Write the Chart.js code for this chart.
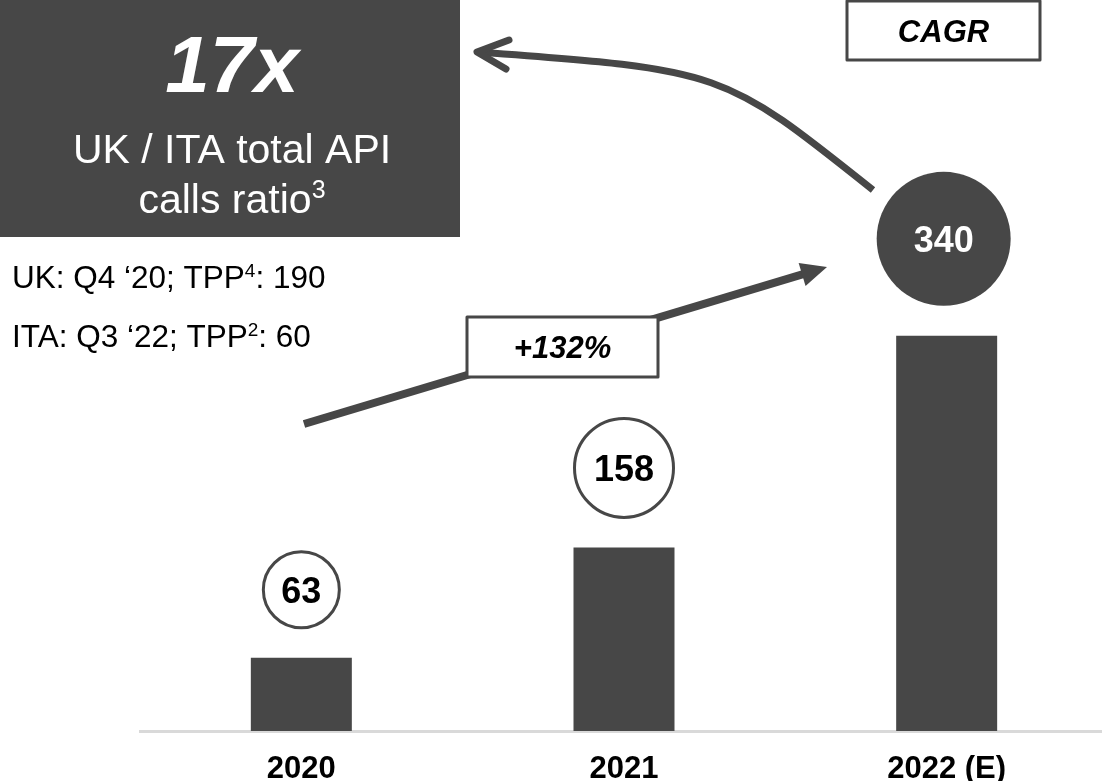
<!DOCTYPE html>
<html>
<head>
<meta charset="utf-8">
<script src="https://cdn.jsdelivr.net/npm/chart.js@4.4.0/dist/chart.umd.min.js"></script>
<style>
html, body { margin: 0; padding: 0; background: #fff; overflow: hidden; }
#wrap { position: absolute; left: 0; top: 0; width: 1108px; height: 807px; }
</style>
</head>
<body>
<div id="wrap"><canvas id="grafico-api"></canvas></div>
<script>
const categories = ['2020', '2021', '2022 (E)'];
const apiCalls = [63, 158, 340];
const axisMax = 629;
const growthText = '+132%';
const cagrText = 'CAGR';
const ratioText = '17x';
const ratioLine1 = [['UK / ITA total API', false]];
const ratioLine2 = [['calls ratio', false], ['3', true]];
const ukLine = [['UK: Q4 \u201820; TPP', false], ['4', true], [': 190', false]];
const itaLine = [['ITA: Q3 \u201822; TPP', false], ['2', true], [': 60', false]];

const DARK = '#474747';
const FONT = "'Liberation Sans', Arial, sans-serif";

// text with superscripts, align 'left' or 'center'
function drawRuns(ctx, x, y, runs, size, align) {
    const supSize = Math.round(size * 0.6);
    let w = 0;
    runs.forEach(r => {
        ctx.font = (r[1] ? supSize : size) + 'px ' + FONT;
        w += ctx.measureText(r[0]).width;
    });
    let cx = align === 'center' ? x - w / 2 : x;
    ctx.textAlign = 'left';
    ctx.textBaseline = 'alphabetic';
    runs.forEach(r => {
        ctx.font = (r[1] ? supSize : size) + 'px ' + FONT;
        ctx.fillText(r[0], cx, r[1] ? y - size * 0.36 : y);
        cx += ctx.measureText(r[0]).width;
    });
}

function labelBox(ctx, x0, y0, x1, y1, text, size) {
    ctx.fillStyle = '#fff';
    ctx.fillRect(x0, y0, x1 - x0, y1 - y0);
    ctx.strokeStyle = DARK;
    ctx.lineWidth = 3;
    ctx.strokeRect(x0, y0, x1 - x0, y1 - y0);
    ctx.fillStyle = '#000';
    ctx.font = 'italic bold ' + size + 'px ' + FONT;
    ctx.textAlign = 'center';
    ctx.textBaseline = 'alphabetic';
    ctx.fillText(text, (x0 + x1) / 2, (y0 + y1) / 2 + size * 0.36);
}

const anotacoes = {
    id: 'anotacoes',
    afterDraw(chart) {
        const ctx = chart.ctx;
        const xs = chart.scales.x, ys = chart.scales.y;
        ctx.save();

        // left dark panel
        ctx.fillStyle = DARK;
        ctx.fillRect(0, 0, 460, 237);
        ctx.fillStyle = '#fff';
        ctx.font = 'italic bold 80px ' + FONT;
        ctx.textAlign = 'center';
        ctx.fillText(ratioText, 232, 92);
        drawRuns(ctx, 232, 163, ratioLine1, 41, 'center');
        drawRuns(ctx, 232, 213, ratioLine2, 41, 'center');

        ctx.fillStyle = '#000';
        drawRuns(ctx, 12, 288, ukLine, 31.5, 'left');
        drawRuns(ctx, 12, 347, itaLine, 31.5, 'left');

        // straight growth arrow
        ctx.strokeStyle = DARK;
        ctx.fillStyle = DARK;
        ctx.lineWidth = 8;
        const ax0 = 304, ay0 = 424, ax1 = 827, ay1 = 267;
        const len = Math.hypot(ax1 - ax0, ay1 - ay0);
        const ux = (ax1 - ax0) / len, uy = (ay1 - ay0) / len;
        const bx = ax1 - ux * 26, by = ay1 - uy * 26;
        ctx.beginPath();
        ctx.moveTo(ax0, ay0);
        ctx.lineTo(bx + ux * 2, by + uy * 2);
        ctx.stroke();
        ctx.beginPath();
        ctx.moveTo(ax1, ay1);
        ctx.lineTo(bx - uy * 12, by + ux * 12);
        ctx.lineTo(bx + uy * 12, by - ux * 12);
        ctx.closePath();
        ctx.fill();

        // curved arrow to the ratio panel
        ctx.lineWidth = 7;
        ctx.lineCap = 'butt';
        ctx.beginPath();
        ctx.moveTo(873, 190);
        ctx.bezierCurveTo(723, 70, 723, 70, 478, 52);
        ctx.stroke();
        ctx.lineCap = 'round';
        ctx.lineJoin = 'round';
        ctx.beginPath();
        ctx.moveTo(509, 40);
        ctx.lineTo(477, 52);
        ctx.lineTo(506, 69);
        ctx.stroke();
        ctx.lineCap = 'butt';

        labelBox(ctx, 467, 317, 658, 377, growthText, 31);
        labelBox(ctx, 847, 1, 1040, 60, cagrText, 31);

        // value bubbles above the bars
        const radius = [38, 49.5, 67];
        const gap = 30;
        apiCalls.forEach((v, i) => {
            const r = radius[i];
            const filled = i === apiCalls.length - 1;
            const cx = xs.getPixelForValue(i) + (filled ? -3 : 0);
            const cy = ys.getPixelForValue(v) - gap - r;
            ctx.beginPath();
            ctx.arc(cx, cy, r, 0, Math.PI * 2);
            ctx.fillStyle = filled ? DARK : '#fff';
            ctx.fill();
            if (!filled) {
                ctx.lineWidth = 3;
                ctx.strokeStyle = DARK;
                ctx.stroke();
            }
            ctx.fillStyle = filled ? '#fff' : '#000';
            ctx.font = 'bold 36px ' + FONT;
            ctx.textAlign = 'center';
            ctx.textBaseline = 'alphabetic';
            ctx.fillText(String(v), cx, cy + 13);
        });
        ctx.restore();
    }
};

const ctx = document.getElementById('grafico-api');
new Chart(ctx, {
    type: 'bar',
    data: {
        labels: categories,
        datasets: [{
            label: 'API calls',
            data: apiCalls,
            backgroundColor: DARK,
            borderWidth: 0,
            barPercentage: 0.313,
            categoryPercentage: 1
        }]
    },
    options: {
        responsive: true,
        maintainAspectRatio: false,
        animation: false,
        layout: { padding: { left: 140, top: 0, right: 0, bottom: 0 } },
        plugins: { legend: { display: false }, tooltip: { enabled: false } },
        scales: {
            x: {
                grid: { display: false, drawTicks: false },
                border: { display: true, color: '#d9d9d9', width: 3 },
                ticks: {
                    color: '#000',
                    padding: 22.5,
                    font: { family: FONT, size: 31, weight: 'bold', lineHeight: 1 }
                }
            },
            y: {
                display: false,
                min: 0,
                max: axisMax
            }
        }
    },
    plugins: [anotacoes]
});
</script>
</body>
</html>
